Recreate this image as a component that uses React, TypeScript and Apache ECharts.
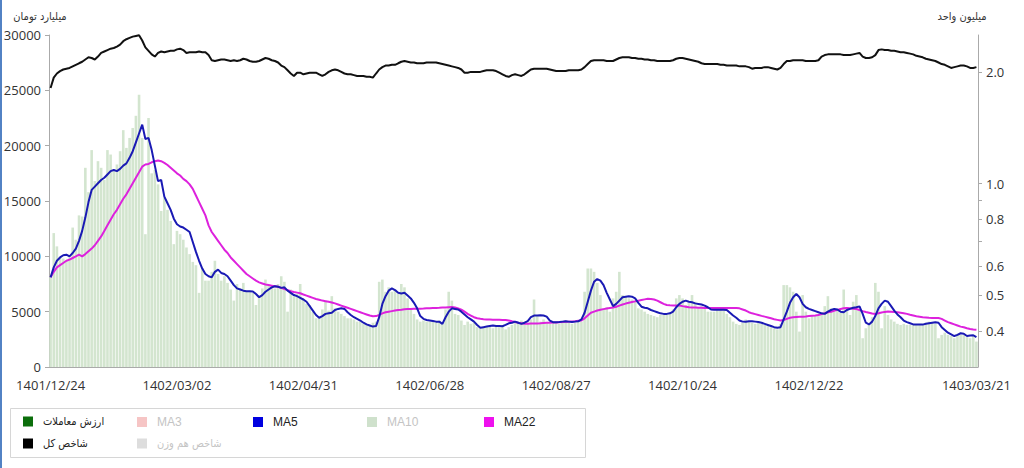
import React, { useEffect, useRef } from 'react';
import * as echarts from 'echarts';

// ---- data ----
const N = 294;
const dateLabelIndex = [0, 40, 80, 120, 160, 200, 240, 293];
const dateLabels = ['1401/12/24', '1402/03/02', '1402/04/31', '1402/06/28', '1402/08/27', '1402/10/24', '1402/12/22', '1403/03/21'];

// trade value (billion toman)
const tradeValue = [
  8100, 12100, 10900, 9900, 9800, 9600, 9900, 12600, 11500, 13700,
  13600, 18000, 15800, 19600, 16800, 18600, 18000, 16900, 19600, 19200,
  17700, 18300, 19500, 21400, 19800, 20700, 21600, 22700, 24600, 20700,
  12000, 22500, 17500, 17800, 16500, 14100, 15300, 14200, 13200, 11100,
  12300, 12000, 11500, 10800, 10200, 9500, 9200, 6700, 8900, 7800,
  7800, 8600, 9600, 8400, 7800, 8200, 7600, 7000, 6000, 7500,
  7100, 7600, 6800, 6900, 6700, 5600, 6500, 7100, 7900, 7400,
  7300, 7100, 7500, 8200, 7700, 5000, 7000, 6400, 6600, 7500,
  6200, 5700, 5600, 5000, 4400, 4600, 5200, 6000, 5100, 6400,
  5300, 5000, 4800, 4600, 4400, 4400, 4300, 4100, 4100, 3900,
  3800, 3800, 4000, 4100, 7700, 7900, 6800, 7200, 6800, 7000,
  6600, 7500, 7200, 6200, 5300, 4800, 4300, 4100, 4200, 4100,
  4100, 4200, 4100, 4200, 4000, 5200, 6800, 6000, 4800, 4700,
  4200, 3800, 4100, 3900, 4000, 3600, 3500, 3600, 3700, 3800,
  3500, 3700, 3600, 3800, 3400, 3600, 3800, 4100, 4100, 4200,
  4100, 4000, 4300, 6100, 4600, 4100, 4300, 4000, 3900, 4000,
  4100, 3900, 4000, 4200, 4100, 3900, 4000, 4200, 4100, 6800,
  8900, 8900, 8600, 7600, 6500, 5300, 5400, 5000, 6200, 6800,
  8600, 6500, 6400, 6200, 6100, 5900, 5300, 5200, 5000, 4800,
  4700, 4600, 4500, 4700, 4700, 4800, 4900, 5200, 6200, 6500,
  6200, 5600, 5800, 6500, 5900, 5300, 5500, 5300, 5000, 5000,
  5000, 5200, 5300, 5100, 4800, 4500, 4100, 3900, 3800, 4000,
  4300, 4100, 4000, 3900, 4100, 3900, 3800, 3700, 3600, 3500,
  3400, 3900, 7400, 7400, 7200, 6800, 5000, 3200, 6500, 5000,
  4400, 4600, 4700, 4800, 4900, 5500, 6400, 5300, 5000, 5200,
  4900, 7000, 5300, 4700, 5900, 6500, 5200, 2600, 3500, 3800,
  4500, 7600, 6800, 3500, 5500, 4700, 4300, 4100, 3900, 3800,
  3900, 3800, 3800, 3800, 3800, 3900, 3900, 4000, 4100, 4000,
  3900, 2600, 2900, 3100, 2900, 2800, 2600, 3000, 2900, 2900,
  2700, 2600, 2800, 2300,
];

const ma5 = [
  8100, 9000, 9600, 9900, 10100, 10150, 10000, 10300, 10700, 11400,
  12300, 13500, 14900, 16000, 16300, 16600, 16900, 17100, 17400, 17700,
  17800, 17700, 17900, 18200, 18400, 18900, 19500, 20300, 21100, 21900,
  20600, 20700, 19600, 18200, 16800, 16900, 15400, 14800, 14200, 13400,
  12900, 12700, 12600, 12400, 12200, 11300, 10400, 9600, 8900, 8400,
  8200, 8100, 8600, 8800, 8500, 8400, 8200, 7800, 7400, 7100,
  7000, 6900, 6850, 6850, 6830, 6600, 6300, 6500, 6800, 7000,
  7200, 7300, 7250, 7150, 7200, 6900, 6700, 6500, 6400, 6250,
  6100, 5900, 5500, 5100, 4700, 4450, 4600, 4800, 4850, 4900,
  5150, 5250, 5300, 5250, 4950, 4700, 4500, 4350, 4200, 4000,
  3850, 3750, 3650, 3700, 4500, 5700, 6400, 6900, 7100, 6950,
  6700, 6650, 6700, 6450, 6200, 5800, 5300, 4600, 4350, 4250,
  4200, 4150, 4100, 4100, 3900, 4500, 5000, 5300, 5250, 5200,
  5000, 4750, 4500, 4300, 4100, 3800, 3550, 3600, 3650, 3700,
  3750, 3700, 3700, 3680, 3800, 3950, 4000, 4100, 4000, 3900,
  4000, 4150, 4500, 4650, 4650, 4680, 4650, 4550, 4200, 4050,
  4050, 4070, 4100, 4130, 4100, 4070, 4100, 4130, 4300, 4900,
  5900, 6900, 7700, 7950, 7800, 7400, 6700, 6100, 5500, 5700,
  6000, 6300, 6350, 6400, 6350, 6200, 5800, 5450, 5350, 5300,
  5150, 5050, 4950, 4850, 4800, 4800, 4850, 5000, 5400, 5700,
  5900, 6000, 5900, 5850, 5750, 5700, 5650, 5550, 5400, 5200,
  5180, 5180, 5180, 5180, 5150, 4900, 4650, 4450, 4200, 4100,
  4080, 4130, 4130, 4100, 4070, 4000, 3900, 3800, 3700, 3600,
  3550, 3600, 4300, 5000, 5800, 6300, 6600, 6300, 5700, 5400,
  5250, 5150, 5050, 4950, 4850, 4800, 5000, 5150, 5250, 5200,
  5000, 4950, 5150, 5250, 5350, 5400, 5480, 4800, 4000, 3850,
  4100, 4600, 5300, 5700, 6000, 5900, 5500, 5100, 4750, 4500,
  4200, 4050, 3950, 3850, 3830, 3830, 3830, 3900, 3950, 4000,
  4050, 4000, 3600, 3350, 3100, 2950, 2800, 2900, 3050, 3000,
  2800, 2850, 2870, 2700,
];

const ma22 = [
  8100, 8600, 9000, 9200, 9400, 9600, 9700, 9850, 10000, 10150,
  10000, 10200, 10450, 10700, 11000, 11400, 11800, 12300, 12800, 13300,
  13800, 14200, 14700, 15200, 15600, 16100, 16600, 17100, 17600, 18100,
  18300, 18350, 18500, 18600, 18650, 18600, 18450, 18250, 18000, 17750,
  17500, 17300, 17000, 16800, 16500, 16100, 15500, 14900, 14300, 13700,
  12800, 12200, 11800, 11400, 11000, 10600, 10300, 9900, 9600, 9300,
  9000, 8700, 8400, 8200, 8000, 7800, 7650, 7550, 7450, 7400,
  7350, 7300, 7250, 7150, 7050, 6950, 6850, 6780, 6720, 6660,
  6550, 6450, 6350, 6250, 6150, 6080, 6000, 5950, 5900, 5830,
  5750, 5650, 5550, 5450, 5350, 5250, 5150, 5050, 4950, 4850,
  4750, 4650, 4580, 4600, 4700, 4850, 4950, 5000, 5050, 5100,
  5150, 5180, 5220, 5240, 5250, 5260, 5260, 5270, 5280, 5300,
  5310, 5330, 5340, 5350, 5370, 5380, 5400, 5420, 5380, 5300,
  5180, 5000, 4800, 4650, 4500, 4400, 4350, 4320, 4300, 4290,
  4280, 4270, 4260, 4250, 4240, 4200, 4130, 4070, 4000, 3950,
  3900, 3900, 3920, 3930, 3940, 3950, 3970, 3990, 4000, 4020,
  4030, 4050, 4070, 4090, 4100, 4120, 4140, 4170, 4200, 4400,
  4650, 4900, 5000, 5100, 5170, 5230, 5280, 5330, 5380, 5450,
  5550, 5650, 5730, 5800, 5870, 5930, 5990, 6050, 6110, 6160,
  6150, 6100, 6000, 5850, 5700, 5600, 5570, 5560, 5560, 5560,
  5500, 5450, 5400, 5380, 5370, 5360, 5350, 5340, 5330, 5330,
  5330, 5330, 5330, 5330, 5330, 5330, 5330, 5330, 5300, 5200,
  5100, 4950, 4850, 4780, 4700, 4620, 4550, 4480, 4400, 4320,
  4260, 4200, 4250, 4350, 4450, 4490, 4510, 4530, 4550, 4570,
  4600, 4630, 4660, 4700, 4780, 4860, 4940, 5000, 5080, 5160,
  5240, 5300, 5330, 5300, 5270, 5240, 5150, 5050, 4970, 4900,
  4830, 4790, 4850, 4920, 4980, 5020, 5000, 4970, 4940, 4900,
  4860, 4800, 4720, 4650, 4580, 4540, 4500, 4470, 4440, 4430,
  4430, 4430, 4350, 4200, 4050, 3950, 3850, 3750, 3650, 3590,
  3500, 3430, 3380, 3360,
];

// total index (million units)
const totalIndex = [
  1.81, 1.93, 1.98, 2.01, 2.03, 2.04, 2.05, 2.07, 2.09, 2.11,
  2.13, 2.16, 2.19, 2.18, 2.16, 2.2, 2.25, 2.27, 2.29, 2.31,
  2.32, 2.34, 2.37, 2.42, 2.45, 2.47, 2.49, 2.5, 2.51, 2.43,
  2.33, 2.28, 2.23, 2.2, 2.25, 2.27, 2.26, 2.27, 2.28, 2.28,
  2.3, 2.31, 2.29, 2.25, 2.26, 2.26, 2.26, 2.27, 2.26, 2.26,
  2.22, 2.15, 2.14, 2.15, 2.16, 2.16, 2.15, 2.14, 2.15, 2.14,
  2.15, 2.17, 2.16, 2.14, 2.13, 2.13, 2.14, 2.16, 2.18, 2.17,
  2.15, 2.14, 2.12, 2.08, 2.06, 2.02, 1.98, 1.95, 1.99, 1.99,
  1.97, 1.98, 1.99, 1.99, 1.99, 1.97, 1.95, 1.97, 2.0, 2.02,
  2.03, 2.02, 2.0, 1.98, 1.97, 1.97, 1.96, 1.95, 1.95, 1.95,
  1.94, 1.94, 1.93, 1.98, 2.03, 2.06, 2.08, 2.08, 2.09, 2.09,
  2.11, 2.13, 2.14, 2.13, 2.12, 2.12, 2.11, 2.11, 2.11, 2.12,
  2.12, 2.12, 2.12, 2.11, 2.1, 2.09, 2.08, 2.07, 2.06, 2.05,
  2.03, 1.99, 1.99, 2.0, 2.0, 2.0, 2.0, 2.01, 2.02, 2.02,
  2.02, 2.01, 1.99, 1.97, 1.95, 1.94, 1.96, 1.97, 1.96, 1.95,
  1.97, 2.0, 2.03, 2.04, 2.04, 2.04, 2.04, 2.04, 2.03, 2.02,
  2.01, 2.01, 2.01, 2.01, 2.02, 2.02, 2.02, 2.02, 2.03, 2.06,
  2.1, 2.14, 2.15, 2.15, 2.15, 2.15, 2.14, 2.14, 2.14, 2.16,
  2.18, 2.19, 2.19, 2.19, 2.18, 2.18, 2.17, 2.17, 2.16, 2.16,
  2.15, 2.15, 2.14, 2.14, 2.14, 2.14, 2.14, 2.15, 2.17, 2.18,
  2.18, 2.17, 2.16, 2.15, 2.14, 2.13, 2.11, 2.1, 2.1, 2.1,
  2.1, 2.1, 2.09, 2.09, 2.08, 2.08, 2.08, 2.08, 2.07, 2.07,
  2.07, 2.06, 2.04, 2.05, 2.05, 2.05, 2.06, 2.06, 2.05, 2.04,
  2.03, 2.05, 2.1, 2.14, 2.14, 2.15, 2.15, 2.15, 2.15, 2.14,
  2.14, 2.14, 2.14, 2.15, 2.2, 2.22, 2.23, 2.23, 2.23, 2.23,
  2.23, 2.22, 2.22, 2.22, 2.23, 2.24, 2.25, 2.2, 2.18, 2.18,
  2.19, 2.22, 2.29, 2.3, 2.29, 2.29, 2.28, 2.28, 2.27, 2.26,
  2.26, 2.25, 2.24, 2.23, 2.21, 2.2, 2.19, 2.17, 2.16, 2.15,
  2.14, 2.12, 2.1, 2.09, 2.07, 2.05, 2.06, 2.07, 2.08, 2.08,
  2.07, 2.05, 2.05, 2.06,
];

// axis ranges / ticks
const leftMin = 0;
const leftMax = 30000;
const leftInterval = 5000;
const rightMin = 0.32;
const rightMax = 2.515;
const rightLabelValues = [0.4, 0.5, 0.6, 0.8, 1.0, 2.0];
const rightTickValues = [0.4, 0.5, 0.6, 0.7, 0.8, 0.9, 1.0, 2.0];

const categories = Array.from({ length: N }, (_, i) => String(i));

const NUM_FONT = "'Open Sans', 'DejaVu Sans', sans-serif";
const FA_FONT = "'DejaVu Sans Condensed', 'DejaVu Sans', sans-serif";
const LAT_FONT = "'Liberation Sans', Arial, sans-serif";

export default function App() {
  const ref = useRef<HTMLDivElement>(null);

  useEffect(() => {
    if (!ref.current) return;
    const chart = echarts.init(ref.current, undefined, { renderer: 'svg' });
    const lg = Math.log10;

    const legendItems = [
      { name: 'ارزش معاملات', icon: '#0b6e0b', text: '#222', left: 23, top: 416, fa: true },
      { name: 'MA3', icon: '#f6c5c5', text: '#c4c4c4', left: 137, top: 416, fa: false },
      { name: 'MA5', icon: '#0000e0', text: '#222', left: 253, top: 416, fa: false },
      { name: 'MA10', icon: '#cfe1cc', text: '#c4c4c4', left: 367, top: 416, fa: false },
      { name: 'MA22', icon: '#ee11ee', text: '#222', left: 484, top: 416, fa: false },
      { name: 'شاخص کل', icon: '#000000', text: '#222', left: 23, top: 438, fa: true },
      { name: 'شاخص هم وزن', icon: '#dddddd', text: '#c4c4c4', left: 137, top: 438, fa: true },
    ];

    const option: any = {
      animation: false,
      backgroundColor: '#ffffff',
      grid: { left: 49, right: 46, top: 35, bottom: 101, containLabel: false },
      legend: legendItems.map((it) => ({
        left: it.left,
        top: it.top,
        padding: 0,
        itemWidth: 10,
        itemHeight: 10,
        itemGap: 0,
        selectedMode: false,
        textStyle: {
          fontSize: it.fa ? 11 : 12,
          fontFamily: it.fa ? FA_FONT : LAT_FONT,
          color: it.text,
          padding: [0, 0, 0, 5],
        },
        data: [{ name: it.name, icon: 'rect', itemStyle: { color: it.icon, opacity: 1 }, textStyle: { color: it.text } }],
      })),
      graphic: [
        { type: 'rect', shape: { x: 0, y: 0, width: 2, height: 468 }, style: { fill: '#5282c4' }, silent: true },
        {
          type: 'rect',
          shape: { x: 10.5, y: 408.5, width: 575, height: 49 },
          style: { fill: 'rgba(255,255,255,0)', stroke: '#d6d6d6', lineWidth: 1 },
          silent: true,
          z: 0,
        },
      ],
      xAxis: {
        type: 'category',
        data: categories,
        boundaryGap: true,
        axisLine: { lineStyle: { color: '#aaaaaa' } },
        axisTick: { interval: 19, length: 5, lineStyle: { color: '#aaaaaa' } },
        axisLabel: {
          interval: (i: number) => dateLabelIndex.indexOf(i) >= 0,
          formatter: (_v: string, i: number) => {
            const k = dateLabelIndex.indexOf(i);
            return k >= 0 ? dateLabels[k] : '';
          },
          color: '#333',
          fontSize: 13,
          fontFamily: NUM_FONT,
          margin: 11,
        },
        splitLine: { show: false },
      },
      yAxis: [
        {
          type: 'value',
          min: leftMin,
          max: leftMax,
          interval: leftInterval,
          name: 'میلیارد تومان',
          nameLocation: 'end',
          nameGap: 13,
          nameTextStyle: { color: '#333', fontSize: 11, fontFamily: FA_FONT, padding: [0, 18, 0, 0] },
          axisLine: { show: true, lineStyle: { color: '#aaaaaa' } },
          axisTick: { show: true, length: 4, lineStyle: { color: '#aaaaaa' } },
          axisLabel: {
            color: '#333',
            fontSize: 13,
            fontFamily: NUM_FONT,
            margin: 8,
            formatter: (v: number) => String(v),
          },
          splitLine: { show: false },
        },
        {
          type: 'value',
          position: 'right',
          min: lg(rightMin),
          max: lg(rightMax),
          name: 'میلیون واحد',
          nameLocation: 'end',
          nameGap: 13,
          nameTextStyle: { color: '#333', fontSize: 11, fontFamily: FA_FONT, padding: [0, 32, 0, 0] },
          axisLine: { show: true, lineStyle: { color: '#aaaaaa' } },
          axisTick: { show: true, length: 4, lineStyle: { color: '#aaaaaa' }, customValues: rightTickValues.map(lg) },
          axisLabel: {
            color: '#333',
            fontSize: 13,
            fontFamily: NUM_FONT,
            margin: 8,
            customValues: rightLabelValues.map(lg),
            formatter: (v: number) => Math.pow(10, v).toFixed(1),
          },
          splitLine: { show: false },
        },
      ],
      series: [
        {
          name: 'ارزش معاملات',
          type: 'bar',
          data: tradeValue,
          yAxisIndex: 0,
          barCategoryGap: '18%',
          itemStyle: { color: '#d3e5cf' },
          z: 1,
        },
        { name: 'MA3', type: 'line', data: [], yAxisIndex: 0, itemStyle: { color: '#f6c5c5' }, showSymbol: false },
        {
          name: 'MA22',
          type: 'line',
          data: ma22,
          yAxisIndex: 0,
          showSymbol: false,
          symbol: 'none',
          itemStyle: { color: '#ee11ee' },
          lineStyle: { color: '#dd22dd', width: 2 },
          z: 3,
        },
        {
          name: 'MA5',
          type: 'line',
          data: ma5,
          yAxisIndex: 0,
          showSymbol: false,
          symbol: 'none',
          itemStyle: { color: '#0000e0' },
          lineStyle: { color: '#1a1ab4', width: 2 },
          z: 4,
        },
        { name: 'MA10', type: 'line', data: [], yAxisIndex: 0, itemStyle: { color: '#cfe1cc' }, showSymbol: false },
        {
          name: 'شاخص کل',
          type: 'line',
          data: totalIndex.map(lg),
          yAxisIndex: 1,
          showSymbol: false,
          symbol: 'none',
          itemStyle: { color: '#000' },
          lineStyle: { color: '#111', width: 2 },
          z: 5,
        },
        { name: 'شاخص هم وزن', type: 'line', data: [], yAxisIndex: 1, itemStyle: { color: '#dddddd' }, showSymbol: false },
      ],
    };

    chart.setOption(option);
    return () => chart.dispose();
  }, []);

  return (
    <div
      ref={ref}
      style={{ position: 'absolute', left: 0, top: 0, width: 1024, height: 468, background: '#fff' }}
    />
  );
}
